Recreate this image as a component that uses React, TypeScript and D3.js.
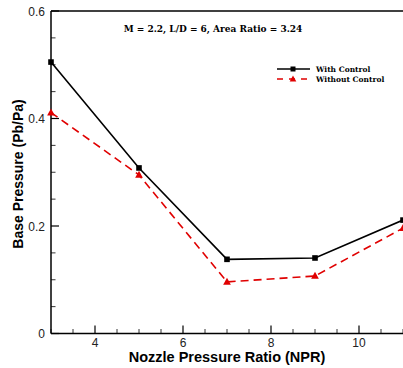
import React from 'react';
import * as d3 from 'd3';

const width = 403;
const height = 368;
const margin = { top: 11, right: 0, bottom: 34.5, left: 51 };

const npr = [3, 5, 7, 9, 11];
const withControl = [0.505, 0.308, 0.138, 0.1405, 0.211];
const withoutControl = [0.411, 0.295, 0.096, 0.107, 0.196];
const xTicks = [4, 6, 8, 10];
const yTicks = [0, 0.2, 0.4, 0.6];

const axisFont = 'Liberation Sans, Arial, sans-serif';
const serifFont = 'DejaVu Serif, Liberation Serif, serif';

export default function App() {
  const x = d3.scaleLinear().domain([3, 11]).range([margin.left, width - margin.right]);
  const y = d3.scaleLinear().domain([0, 0.6]).range([height - margin.bottom, margin.top]);

  const line = d3.line<number>()
    .x((d, i) => x(npr[i]))
    .y(d => y(d));

  const xMinor = d3.range(3, 11.01, 0.5).filter(v => !xTicks.includes(v));
  const yMinor = d3.range(0, 0.601, 0.05).filter(v => !yTicks.some(t => Math.abs(t - v) < 1e-6));

  const x0 = x(3);
  const yBase = y(0);

  // legend
  const lgX1 = 277, lgX2 = 310, lgY1 = 69, lgY2 = 79;
  const tri = (cx: number, cy: number, s: number) =>
    `M${cx},${cy - s * 0.6}L${cx + s * 0.55},${cy + s * 0.4}L${cx - s * 0.55},${cy + s * 0.4}Z`;

  return (
    <svg width={width} height={height} style={{ position: 'absolute', left: 0, top: 0 }}>
      <rect width={width} height={height} fill="#fff" />

      {/* frame */}
      <line x1={x0} x2={width} y1={y(0.6)} y2={y(0.6)} stroke="#000" strokeWidth={1.5} />
      <line x1={x0} x2={x0} y1={y(0.6)} y2={yBase} stroke="#000" strokeWidth={1.5} />
      <line x1={x0} x2={width} y1={yBase} y2={yBase} stroke="#000" strokeWidth={1.5} />

      {/* x ticks */}
      {xTicks.map(t => (
        <g key={'xt' + t}>
          <line x1={x(t)} x2={x(t)} y1={yBase} y2={yBase - 8} stroke="#000" strokeWidth={1.2} />
          <text x={x(t)} y={yBase + 13} textAnchor="middle" fontFamily={axisFont} fontSize={12} fill="#222">{t}</text>
        </g>
      ))}
      {xMinor.map(t => (
        <line key={'xm' + t} x1={x(t)} x2={x(t)} y1={yBase} y2={yBase - 4.5} stroke="#000" strokeWidth={0.8} />
      ))}

      {/* y ticks */}
      {yTicks.map(t => (
        <g key={'yt' + t}>
          <line x1={x0} x2={x0 + 8} y1={y(t)} y2={y(t)} stroke="#000" strokeWidth={1.2} />
          <text x={x0 - 6} y={y(t) + 4.5} textAnchor="end" fontFamily={axisFont} fontSize={12} fill="#222">
            {t === 0 ? '0' : t.toFixed(1)}
          </text>
        </g>
      ))}
      {yMinor.map(t => (
        <line key={'ym' + t} x1={x0} x2={x0 + 4.5} y1={y(t)} y2={y(t)} stroke="#000" strokeWidth={0.8} />
      ))}

      {/* series */}
      <path d={line(withoutControl) || ''} fill="none" stroke="#e00000" strokeWidth={1.6} strokeDasharray="8,5" />
      {withoutControl.map((v, i) => (
        <path key={'wo' + i} d={tri(x(npr[i]), y(v), 7)} fill="#e00000" />
      ))}
      <path d={line(withControl) || ''} fill="none" stroke="#000" strokeWidth={1.6} />
      {withControl.map((v, i) => (
        <rect key={'w' + i} x={x(npr[i]) - 2.8} y={y(v) - 2.8} width={5.6} height={5.6} fill="#000" />
      ))}

      {/* annotation */}
      <text x={213} y={32} textAnchor="middle" fontFamily={serifFont} fontWeight="bold" fontSize={9}>
        M = 2.2, L/D = 6, Area Ratio = 3.24
      </text>

      {/* legend */}
      <line x1={lgX1} x2={lgX2} y1={lgY1} y2={lgY1} stroke="#000" strokeWidth={1.6} />
      <rect x={293 - 2.5} y={lgY1 - 2.5} width={5} height={5} fill="#000" />
      <line x1={lgX1} x2={lgX2} y1={lgY2} y2={lgY2} stroke="#e00000" strokeWidth={1.6} strokeDasharray="6,6" />
      <path d={tri(293, lgY2, 6)} fill="#e00000" />
      <text x={316} y={lgY1 + 3} fontFamily={serifFont} fontWeight="bold" fontSize={7.5}>With Control</text>
      <text x={316} y={lgY2 + 3} fontFamily={serifFont} fontWeight="bold" fontSize={7.5}>Without Control</text>

      {/* axis labels */}
      <text x={227} y={362} textAnchor="middle" fontFamily={axisFont} fontWeight="bold" fontSize={14.5}>
        Nozzle Pressure Ratio (NPR)
      </text>
      <text transform={`translate(23,${174}) rotate(-90)`} textAnchor="middle" fontFamily={axisFont} fontWeight="bold" fontSize={14}>
        Base Pressure (Pb/Pa)
      </text>
    </svg>
  );
}
